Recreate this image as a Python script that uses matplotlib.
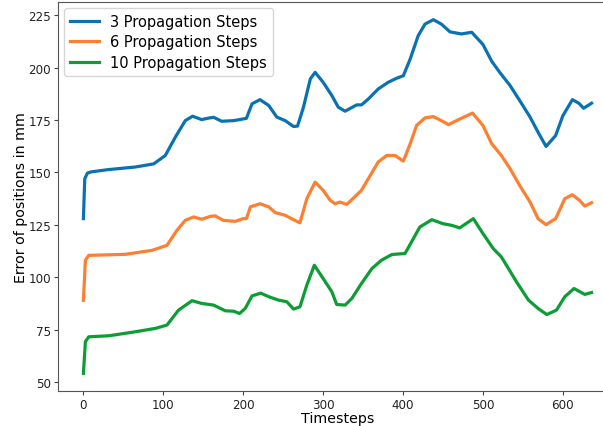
import matplotlib
matplotlib.use("Agg")
import matplotlib.pyplot as plt

labels = ["3 Propagation Steps", "6 Propagation Steps", "10 Propagation Steps"]
colors = ["#0b72b1", "#fc7f32", "#0c9d34"]

x3 = [0, 1.7, 5, 10, 32, 65, 88, 102.5, 115, 127.5, 136.6, 148, 156.6, 163, 173, 188, 200, 204,
      211, 221, 232, 242, 252.5, 263, 268, 275.4, 284, 290, 300, 311, 319, 327.5, 342, 348,
      356.6, 369, 381.6, 392, 400.4, 409, 419, 427.5, 438, 448, 458.75, 473, 486, 500, 511,
      521, 534, 546, 559, 569, 579, 591, 600, 612, 620, 626, 636]
y3 = [128, 147, 149.7, 150.3, 151.4, 152.6, 154.1, 158.1, 166.8, 174.7, 176.8, 175.2, 175.9,
      176.3, 174.4, 174.7, 175.5, 175.8, 182.7, 184.7, 181.9, 176.4, 174.7, 171.9, 172.1, 181.1,
      194.6, 197.7, 193, 186.6, 181.1, 179.2, 182.2, 182.2, 185, 189.8, 193, 194.9, 196.1, 204.1,
      215.2, 220.7, 222.8, 220.7, 217, 216, 216.8, 211, 203, 197.7, 191.4, 184.3, 176.4, 169.2,
      162.4, 167.6, 177, 184.7, 183, 180.6, 183]

x6 = [0, 2.5, 6.7, 52.5, 86, 104.6, 117, 127.5, 138, 148, 159, 165, 175, 190, 200, 204, 209,
      221, 232, 240, 252.5, 263, 271, 279.6, 290, 300, 309, 315, 321, 329.6, 338, 348, 359, 369,
      379.6, 390, 400.4, 409, 417, 427.5, 438, 448, 457, 469, 487, 500, 511, 523, 534, 546, 559,
      569, 579, 591, 602.5, 612, 621, 627.5, 636]
y6 = [89.1, 108.2, 110.5, 111, 112.9, 115.3, 122.4, 127.2, 128.8, 127.7, 129.1, 129.3, 127.2,
      126.7, 128, 128, 133.6, 135.1, 133.6, 130.9, 129.6, 127.5, 126, 137.5, 145.4, 141.5, 136.7,
      135.1, 135.9, 134.8, 137.8, 141.5, 148.6, 155, 158.1, 158.1, 155.4, 163.7, 172.4, 176,
      176.6, 174.7, 172.8, 175.1, 178.3, 172.4, 163.7, 158.1, 151.8, 143.8, 135.9, 128, 125.1,
      128, 137.5, 139.4, 136.7, 134, 135.6]

x10 = [0, 2.5, 6.7, 32, 65, 90, 104.6, 119, 136, 148, 163, 177.5, 188, 195.4, 202.5, 211, 222,
       232, 244, 254.6, 263, 271, 279.6, 289, 300, 311, 317, 327.5, 336, 348, 361, 373, 386,
       402.5, 413, 421, 436, 450, 461, 471, 488, 500, 513, 523, 532, 542, 557, 569, 580, 592,
       602.5, 614, 627.5, 636]
y10 = [54.3, 69.4, 71.7, 72.2, 74.1, 75.7, 77.3, 84.4, 88.9, 87.6, 86.8, 84.1, 83.9, 82.8, 85.2,
       91.2, 92.5, 90.8, 89.2, 88.4, 84.9, 86, 96.3, 105.8, 99.5, 93.1, 87.1, 86.8, 90, 97.1,
       104.2, 108.2, 110.9, 111.4, 118.5, 124, 127.5, 125.6, 124.8, 123.6, 128, 120.9, 113.7,
       109.8, 104.2, 97.9, 89.2, 85.2, 82.3, 84.4, 90.8, 94.7, 91.9, 92.8]

fig = plt.figure(figsize=(6.03, 4.27), dpi=100)
# axes runs past the right edge of the figure, like the cropped original
ax = fig.add_axes([58 / 603, 35 / 427, 559 / 603, 389 / 427])

for xs, ys, lab, c in zip([x3, x6, x10], [y3, y6, y10], labels, colors):
    ax.plot(xs, ys, color=c, lw=2.3, label=lab)

ax.set_yticks([50, 75, 100, 125, 150, 175, 200, 225])
ax.set_xticks([0, 100, 200, 300, 400, 500, 600])
ax.tick_params(labelsize=8.6, colors="#444444", labelcolor="#222222", length=3, pad=2)
for s in ax.spines.values():
    s.set_color("#555555")
ax.spines["right"].set_visible(False)

ax.set_xlabel("Timesteps", fontsize=10.3, labelpad=0)
ax.set_ylabel("Error of positions in mm", fontsize=10.3, labelpad=0)
ax.legend(loc="upper left", fontsize=10.5, borderaxespad=0.4, labelspacing=0.4)

fig.savefig("out.png", dpi=100)
